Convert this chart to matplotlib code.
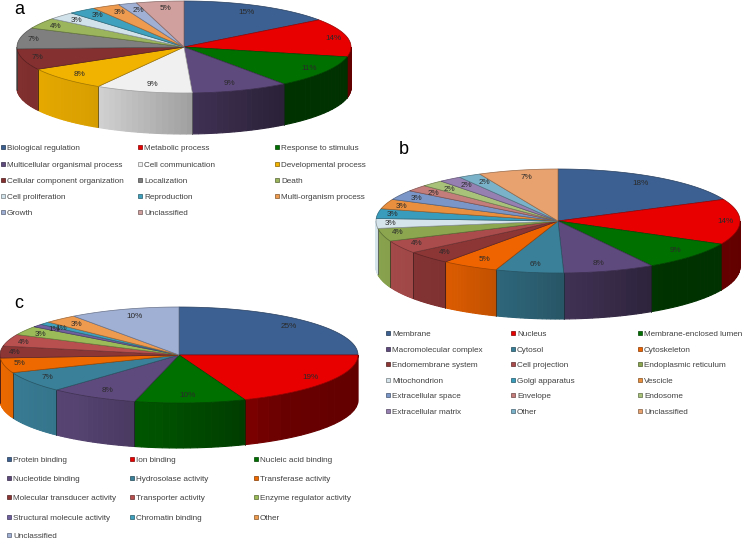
import numpy as np
import matplotlib
matplotlib.use("Agg")
import matplotlib.pyplot as plt
from matplotlib.colors import to_rgb

plt.rcParams['font.family'] = ['Liberation Sans', 'DejaVu Sans']

# Panel a, values, labels show them rounded
a_labels = ["Biological regulation", "Metabolic process", "Response to stimulus",
            "Multicellular organismal process", "Cell communication", "Developmental process",
            "Cellular component organization", "Localization", "Death",
            "Cell proliferation", "Reproduction", "Multi-organism process",
            "Growth", "Unclassified"]
a_values = [15, 13.5, 11.4, 9.4, 9.4, 8.4, 7.4, 7.4, 3.8, 2.7, 2.7, 2.7, 1.8, 4.6]
a_colors = ["#3c6091", "#e80000", "#007000", "#5f4a7d", "#f0f0f0", "#f2b200", "#843030",
            "#7f7f7f", "#9ab55c", "#d2e2ea", "#3fa1bd", "#ee9a4f", "#a0b0d4", "#cfa09d"]

# Panel b
b_labels = ["Membrane", "Nucleus", "Membrane-enclosed lumen",
            "Macromolecular complex", "Cytosol", "Cytoskeleton",
            "Endomembrane system", "Cell projection", "Endoplasmic reticulum",
            "Mitochondrion", "Golgi apparatus", "Vescicle",
            "Extracellular space", "Envelope", "Endosome",
            "Extracellular matrix", "Other", "Unclassified"]
b_values = [18, 14, 9, 8, 6, 5, 4, 4, 4, 3, 3, 3, 3, 2, 2, 2, 2, 7]
b_colors = ["#3c6091", "#e80000", "#007000", "#5f4a7d", "#3a8099", "#f06400", "#8c3636",
            "#ab4c4c", "#8ba64f", "#d5e3ea", "#3a9cbc", "#e98f3e", "#7a96c8", "#c47d7a",
            "#a9c27a", "#9680b2", "#7ab3c9", "#e8a26f"]

# Panel c
c_labels = ["Protein binding", "Ion binding", "Nucleic acid binding",
            "Nucleotide binding", "Hydrosolase activity", "Transferase activity",
            "Molecular transducer activity", "Transporter activity", "Enzyme regulator activity",
            "Structural molecule activity", "Chromatin binding", "Other",
            "Unclassified"]
c_values = [25, 19, 10, 8, 7, 5, 4, 4, 3, 1, 1, 3, 10]
c_colors = ["#3c6091", "#e80000", "#007000", "#5f4a7d", "#3a8099", "#ee6a00", "#8c3636",
            "#b85050", "#9bbb59", "#7060a0", "#3fa1bd", "#ee9a4f", "#a0b0d4"]


def shade(color, factor):
    return tuple(c * factor for c in to_rgb(color))


def wall_light(t):
    # The light comes from the left, the right hand side of the wall is dark
    return np.interp(np.degrees(t), [90, 145, 180, 215, 270], [0.42, 0.45, 0.68, 0.9, 1.0])


def draw_pie(ax, values, colors, cx, cy, rx, ry, depth):
    """Fake 3D pie, angles run clockwise from 12 o'clock"""
    edges = np.cumsum([0] + list(values)) / sum(values) * 2 * np.pi

    # Side wall first, only the front half can be seen
    for i in range(len(values)):
        lo = max(edges[i], np.pi / 2)
        hi = min(edges[i + 1], 3 * np.pi / 2)
        if lo >= hi:
            continue
        cuts = np.linspace(lo, hi, 17)
        for j in range(16):
            t = np.linspace(cuts[j], cuts[j + 1], 5)
            x = cx + rx * np.sin(t)
            y = cy - ry * np.cos(t)
            col = shade(colors[i], wall_light(t.mean()))
            ax.fill(np.r_[x, x[::-1]], np.r_[y, y[::-1] + depth],
                    facecolor=col, edgecolor=col, lw=0.8, zorder=2)
        for t in (lo, hi):
            if t == np.pi / 2 or t == 3 * np.pi / 2:
                continue
            x = cx + rx * np.sin(t)
            y = cy - ry * np.cos(t)
            ax.plot([x, x], [y, y + depth], color=shade(colors[i], 0.4), lw=0.4, zorder=3)

    # Top face
    for i in range(len(values)):
        t = np.linspace(edges[i], edges[i + 1], 60)
        x = np.r_[cx, cx + rx * np.sin(t)]
        y = np.r_[cy, cy - ry * np.cos(t)]
        ax.fill(x, y, facecolor=colors[i], edgecolor=shade(colors[i], 0.65), lw=0.5, zorder=4)

    # Percent labels, pushed further out toward the left and right ends
    for i in range(len(values)):
        mid = (edges[i] + edges[i + 1]) / 2
        fx = 0.75 + 0.17 * abs(np.sin(mid))
        ax.text(cx + fx * rx * np.sin(mid), cy - 0.85 * ry * np.cos(mid),
                f"{values[i]:.0f}%", fontsize=5.9, color="#2a2a2a",
                ha="center", va="center", zorder=5)


def draw_legend(ax, labels, colors, col_x, row_y):
    for i in range(len(labels)):
        x = col_x[i % 3]
        y = row_y[i // 3]
        ax.plot(x, y, marker="s", ms=3.2, mfc=colors[i], mec=shade(colors[i], 0.55),
                mew=0.5, ls="none", zorder=5)
        ax.text(x + 4, y + 2.8, labels[i], fontsize=5.9, color="#404040",
                ha="left", va="baseline", zorder=5)


fig = plt.figure(figsize=(7.46, 5.39), dpi=100)
ax = fig.add_axes([0, 0, 1, 1])
ax.set_xlim(0, 746)
ax.set_ylim(539, 0)
ax.axis("off")

draw_pie(ax, a_values, a_colors, 184, 47, 167, 46, 41)
draw_pie(ax, b_values, b_colors, 558, 221, 182, 52, 46)
draw_pie(ax, c_values, c_colors, 179, 355, 179, 48, 45)

draw_legend(ax, a_labels, a_colors, [3, 140, 277], [147, 164, 180, 196, 212])
draw_legend(ax, b_labels, b_colors, [388, 513, 640], [333, 349, 364, 380, 395, 411])
draw_legend(ax, c_labels, c_colors, [9, 132, 256], [459, 478, 497, 517, 535])

ax.text(19, 9, "a", fontsize=13, color="black", ha="center", va="center")
ax.text(404, 149, "b", fontsize=13, color="black", ha="center", va="center")
ax.text(19, 303, "c", fontsize=13, color="black", ha="center", va="center")

fig.savefig("out.png", dpi=100)
